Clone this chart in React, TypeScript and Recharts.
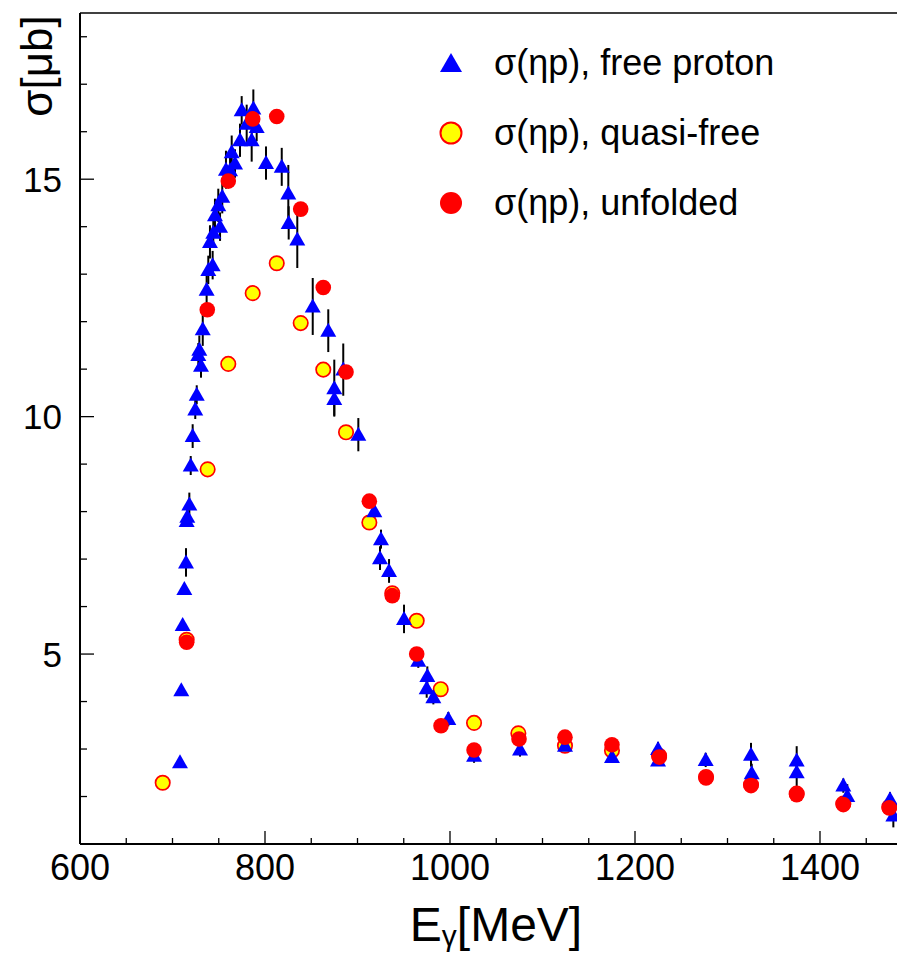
import React from 'react';
import { ScatterChart, Scatter, XAxis, YAxis, ErrorBar, ReferenceLine, Legend } from 'recharts';

// ---- data (photon energy in MeV, cross section in µb) ----
const freeProtonE = [708.1, 709.5, 711.0, 712.8, 714.6, 715.3, 716.0, 718.2, 719.7, 721.8, 724.6, 726.2, 727.9, 729.0, 730.8, 732.7, 736.9, 738.7, 740.5, 743.4, 744.1, 745.9, 749.5, 751.4, 753.8, 757.8, 762.2, 764.0, 767.6, 773.0, 774.8, 780.2, 785.6, 787.4, 791.0, 801.1, 818.1, 825.2, 825.6, 834.9, 851.6, 868.4, 874.9, 874.9, 884.6, 900.9, 918.2, 924.3, 925.4, 934.1, 950.3, 965.7, 974.8, 975.5, 982.0, 998.2, 1026.0, 1075.7, 1124.3, 1175.1, 1224.9, 1224.9, 1276.4, 1325.4, 1326.2, 1374.8, 1374.8, 1425.2, 1429.5, 1475.7, 1479.3];
const freeProtonSigma = [2.72, 4.24, 5.61, 6.37, 6.93, 7.80, 7.89, 8.15, 8.97, 9.59, 10.15, 10.46, 11.30, 11.41, 11.07, 11.84, 12.67, 13.09, 13.68, 13.19, 13.87, 14.24, 14.45, 14.00, 14.63, 15.20, 15.19, 15.57, 15.33, 15.82, 16.45, 16.17, 15.82, 16.49, 16.10, 15.34, 15.26, 14.70, 14.08, 13.73, 12.32, 11.81, 10.60, 10.37, 10.99, 9.62, 8.01, 7.02, 7.42, 6.75, 5.74, 4.86, 4.28, 4.54, 4.09, 3.63, 2.86, 2.99, 3.07, 2.83, 3.00, 2.76, 2.77, 2.88, 2.49, 2.76, 2.51, 2.23, 2.01, 1.94, 1.60];
const freeProtonErr = [0.05, 0.05, 0.08, 0.1, 0.3, 0.1, 0.15, 0.25, 0.2, 0.25, 0.2, 0.2, 0.25, 0.3, 0.25, 0.35, 0.3, 0.3, 0.35, 0.3, 0.3, 0.35, 0.35, 0.3, 0.35, 0.4, 0.35, 0.35, 0.3, 0.35, 0.3, 0.4, 0.45, 0.4, 0.3, 0.35, 0.4, 0.6, 0.35, 0.6, 0.6, 0.45, 0.6, 0.35, 0.55, 0.35, 0.3, 0.25, 0.2, 0.25, 0.3, 0.15, 0.2, 0.2, 0.15, 0.15, 0.15, 0.15, 0.1, 0.1, 0.15, 0.1, 0.15, 0.25, 0.2, 0.3, 0.3, 0.15, 0.25, 0.15, 0.25];

const quasiFreeE = [689.4, 715.3, 738.0, 760.3, 786.7, 812.7, 838.6, 863.0, 887.6, 912.8, 937.6, 964.0, 990.0, 1026.0, 1073.9, 1124.3, 1175.1, 1226.0, 1276.8, 1325.4, 1374.8, 1425.2, 1474.9];
const quasiFreeSigma = [2.29, 5.30, 8.89, 11.11, 12.60, 13.23, 11.97, 10.99, 9.67, 7.77, 6.28, 5.70, 4.26, 3.55, 3.33, 3.07, 2.97, 2.86, 2.41, 2.25, 2.06, 1.85, 1.78];

const unfoldedE = [715.3, 737.6, 760.3, 786.7, 812.7, 838.6, 863.0, 887.6, 912.8, 937.6, 964.0, 990.3, 1026.0, 1074.6, 1124.3, 1175.1, 1226.3, 1276.8, 1325.4, 1374.8, 1425.2, 1474.9];
const unfoldedSigma = [5.25, 12.25, 14.96, 16.27, 16.32, 14.37, 12.72, 10.94, 8.22, 6.23, 5.00, 3.49, 2.98, 3.21, 3.25, 3.09, 2.83, 2.39, 2.23, 2.04, 1.83, 1.76];

const xTicks = [600, 650, 700, 750, 800, 850, 900, 950, 1000, 1050, 1100, 1150, 1200, 1250, 1300, 1350, 1400, 1450, 1500];
const xMajorTicks = [600, 800, 1000, 1200, 1400];
const yTicks = [1, 2, 3, 4, 5, 6, 7, 8, 9, 10, 11, 12, 13, 14, 15, 16, 17, 18];
const yMajorTicks = [5, 10, 15];
const legendLabels = ['σ(ηp), free proton', 'σ(ηp), quasi-free', 'σ(ηp), unfolded'];

const FONT = "'Liberation Sans', Arial, Helvetica, sans-serif";
const BLUE = '#0000ff';
const RED = '#ff0000';
const YELLOW = '#ffff00';

const freeProton = freeProtonE.map((x, i) => ({ x, y: freeProtonSigma[i], err: freeProtonErr[i] }));
const quasiFree = quasiFreeE.map((x, i) => ({ x, y: quasiFreeSigma[i] }));
const unfolded = unfoldedE.map((x, i) => ({ x, y: unfoldedSigma[i] }));

const Triangle = (p: any) => {
  const { cx, cy } = p;
  if (cx == null || cy == null) return <g />;
  return <polygon points={`${cx},${cy - 8} ${cx - 8},${cy + 6} ${cx + 8},${cy + 6}`} fill={BLUE} />;
};
const YellowDot = (p: any) => {
  const { cx, cy } = p;
  if (cx == null || cy == null) return <g />;
  return <circle cx={cx} cy={cy} r={7.2} fill={YELLOW} stroke={RED} strokeWidth={1.7} />;
};
const RedDot = (p: any) => {
  const { cx, cy } = p;
  if (cx == null || cy == null) return <g />;
  return <circle cx={cx} cy={cy} r={7.8} fill={RED} />;
};

const XTick = (p: any) => {
  const { x, y, payload } = p;
  const v = payload.value;
  const major = xMajorTicks.includes(v);
  return (
    <g>
      <line x1={x} x2={x} y1={y} y2={y - (major ? 13 : 6)} stroke="#000" strokeWidth={1.3} />
      {major && (
        <text x={x} y={y + 36} textAnchor="middle" fontSize={36} fontFamily={FONT} fill="#000">
          {v}
        </text>
      )}
    </g>
  );
};

const YTick = (p: any) => {
  const { x, y, payload } = p;
  const v = payload.value;
  const major = yMajorTicks.includes(v);
  return (
    <g>
      <line x1={x} x2={x + (major ? 14 : 7)} y1={y} y2={y} stroke="#000" strokeWidth={1.3} />
      {major && (
        <text x={x - 18} y={y + 12.5} textAnchor="end" fontSize={35} fontFamily={FONT} fill="#000">
          {v}
        </text>
      )}
    </g>
  );
};

const XTitle = () => (
  <text x={496} y={941} textAnchor="middle" fontSize={48} fontFamily={FONT} fill="#000">
    E<tspan fontSize={30} dy={5}>γ</tspan>
    <tspan dy={-5}>[MeV]</tspan>
  </text>
);

const YTitle = () => (
  <text x={52} y={66} textAnchor="middle" fontSize={44} fontFamily={FONT} fill="#000" transform="rotate(-90, 52, 66)">
    σ[μb]
  </text>
);

const LegendBox = () => (
  <svg width={897} height={240} style={{ display: 'block' }}>
    <polygon points="451,53 440,72 462,72" fill={BLUE} />
    <circle cx={451} cy={133} r={10.5} fill={YELLOW} stroke={RED} strokeWidth={2} />
    <circle cx={451} cy={203} r={11} fill={RED} />
    {legendLabels.map((t, i) => (
      <text key={t} x={494} y={75 + i * 70} fontSize={36} fontFamily={FONT} fill="#000">
        {t}
      </text>
    ))}
  </svg>
);

export default function App() {
  return (
    <div style={{ position: 'absolute', left: 0, top: 0, width: 897, height: 957, overflow: 'hidden', background: '#fff' }}>
      <ScatterChart width={925} height={957} margin={{ top: 13, left: 20, right: 12.5, bottom: 53 }}>
        <XAxis
          type="number"
          dataKey="x"
          domain={[600, 1500]}
          ticks={xTicks}
          interval={0}
          height={60}
          tickSize={0}
          tickMargin={0}
          tickLine={false}
          tick={<XTick />}
          axisLine={{ stroke: '#000', strokeWidth: 2 }}
          allowDataOverflow
          label={<XTitle />}
        />
        <YAxis
          type="number"
          dataKey="y"
          domain={[1, 18.5]}
          ticks={yTicks}
          interval={0}
          width={60}
          tickSize={0}
          tickMargin={0}
          tickLine={false}
          tick={<YTick />}
          axisLine={{ stroke: '#000', strokeWidth: 2 }}
          allowDataOverflow
          label={<YTitle />}
        />
        <ReferenceLine y={18.5} stroke="#000" strokeWidth={1.5} />
        <Scatter data={quasiFree} shape={<YellowDot />} isAnimationActive={false} />
        <Scatter data={freeProton} shape={<Triangle />} isAnimationActive={false}>
          <ErrorBar dataKey="err" direction="y" width={0} stroke="#000" strokeWidth={2} />
        </Scatter>
        <Scatter data={unfolded} shape={<RedDot />} isAnimationActive={false} />
        <Legend
          content={<LegendBox />}
          layout="vertical"
          align="center"
          verticalAlign="middle"
          wrapperStyle={{ left: 0, top: 0, width: 897, height: 240, pointerEvents: 'none' }}
        />
      </ScatterChart>
    </div>
  );
}
